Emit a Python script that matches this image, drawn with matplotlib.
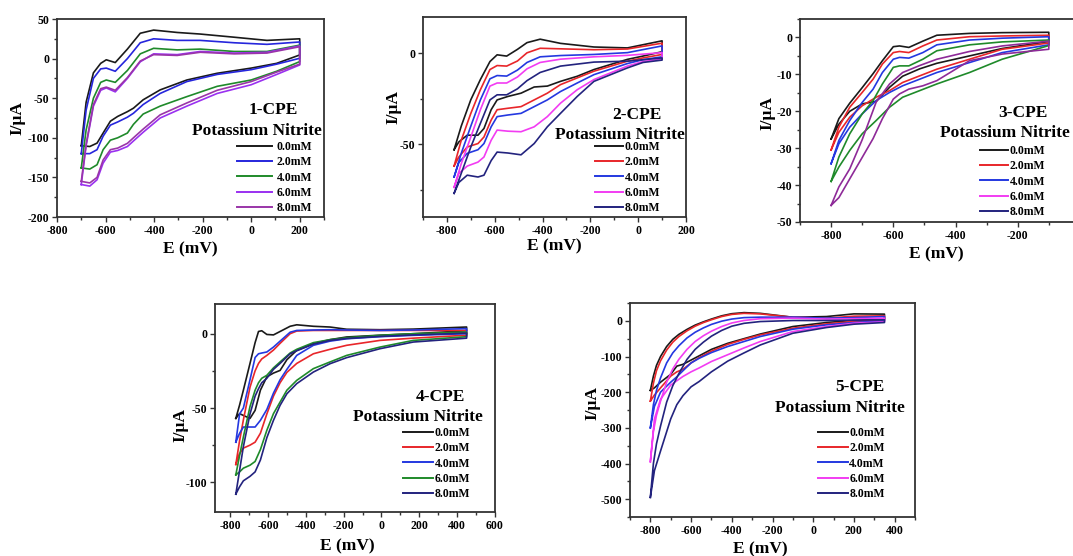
import matplotlib
matplotlib.use('Agg')
import matplotlib.pyplot as plt
from matplotlib.lines import Line2D
from matplotlib.ticker import MultipleLocator

plt.rcParams['font.family'] = ['Liberation Serif', 'DejaVu Serif']
plt.rcParams['font.weight'] = 'bold'
plt.rcParams['axes.labelweight'] = 'bold'
plt.rcParams['axes.unicode_minus'] = False

conc_labels = ['0.0mM', '2.0mM', '4.0mM', '6.0mM', '8.0mM']

# ---------------- Panel 1 (1-CPE) ----------------
p1_e_up = [-700, -680, -650, -620, -597, -560, -510, -457, -402, -305, -210, -70, 65, 200]
p1_i_up = [
    [-110, -55, -18, -6, -1.5, -5, 12, 32, 36, 33, 31, 27, 23, 25],
    [-120, -65, -25, -13, -12, -16, 0, 20, 25, 23, 23, 20, 18, 21],
    [-138, -90, -50, -30, -27, -30, -15, 6, 13, 11, 12, 9, 9, 17],
    [-159, -110, -60, -40, -37, -42, -25, -4, 6, 5, 9, 7, 8, 16],
    [-155, -108, -58, -38, -36, -40, -24, -3, 5, 4, 8, 6, 7, 15],
]
p1_e_dn = [200, 105, 0, -140, -265, -375, -445, -485, -510, -550, -580, -610, -635, -665, -700]
p1_i_dn = [
    [4.6, -6, -12, -18.5, -27, -39.5, -52, -62.6, -67, -73, -79, -94, -106.7, -111, -110],
    [0.4, -7, -14, -20, -29, -44, -58, -69, -74, -80, -84, -98, -115, -120, -120],
    [-3.8, -16, -27, -35, -48, -60, -70, -83, -94, -100, -103, -115, -134, -139.5, -138],
    [-8, -20, -33, -44, -60, -75, -93, -104, -111, -116, -118, -132, -153, -161, -159],
    [-7, -17, -29, -40, -56, -71, -89, -100, -107, -113, -115, -128, -150, -157, -155],
]
p1_colors = ['#1a1a1a', '#2626dc', '#1f8a2a', '#9a30f0', '#9a35a8']
p1_legend_colors = p1_colors

# ---------------- Panel 2 (2-CPE) ----------------
p2_e_up = [-770, -740, -700, -660, -620, -590, -550, -505, -465, -410, -325, -185, -45, 100]
p2_i_up = [
    [-53, -40, -25.5, -14.4, -4.5, -0.8, -1.5, 2.2, 5.9, 7.8, 5.5, 3.5, 3, 6.9],
    [-62, -47.8, -33, -20, -8.9, -6.7, -7, -4.2, 0.3, 2.8, 2.5, 2, 2.4, 5.6],
    [-68, -55, -40, -25.6, -14, -12.2, -12.5, -9.2, -5, -1.9, -1.2, -0.6, 0.4, 4.1],
    [-73.7, -60.7, -46, -31, -18, -16.3, -16.3, -13, -8.5, -5, -3.2, -1.9, -1.1, 0.4],
    [-77, -66, -51.5, -38.5, -25.6, -22.8, -22.8, -19.5, -15, -10.5, -7, -4.8, -4.3, -2.5],
]
p2_e_dn = [100, 20, -45, -185, -255, -325, -380, -435, -490, -545, -590, -615, -645, -670, -715, -750, -770]
p2_i_dn = [
    [0.9, -1.5, -3.3, -8.9, -12.6, -15.4, -18, -18.5, -21.9, -23.7, -25.6, -31, -41.3, -45, -45, -48.7, -53],
    [-0.6, -2.5, -4.3, -9.8, -13.5, -17.2, -21.9, -25.6, -29.3, -30.2, -31, -36.7, -46, -49.6, -51.5, -57, -62],
    [-1.9, -3.5, -5.6, -11.7, -16.3, -21, -25.6, -29.3, -33, -33.9, -34.8, -40.4, -49.6, -53, -55, -60, -68],
    [-3, -4.5, -7, -14.4, -20, -27.4, -34.8, -40.4, -43.1, -42.8, -42.2, -47.8, -57, -59.8, -62, -66, -73.7],
    [-3.7, -5, -8, -15.4, -23.7, -33, -40.4, -49.6, -55.8, -54.8, -54.3, -59, -67, -68, -67, -71, -77],
]
p2_colors = ['#1a1a1a', '#e8262a', '#2438e0', '#f23cf2', '#23237e']
p2_legend_colors = p2_colors

# ---------------- Panel 3 (3-CPE) ----------------
p3_e_up = [-800, -775, -740, -700, -665, -635, -600, -580, -550, -505, -460, -355, -250, -100]
p3_i_up = [
    [-27.5, -22, -17.8, -13.6, -9.8, -6.3, -2.5, -2.3, -2.7, -1, 0.6, 1.1, 1.3, 1.4],
    [-30.5, -24.3, -18.9, -14.9, -11.3, -7.2, -4.1, -3.8, -4.1, -2.3, -0.7, 0.2, 0.4, 0.6],
    [-34.2, -27.9, -22.5, -17.6, -14, -9.5, -5.9, -5.4, -5.6, -4.1, -2, -0.7, -0.2, 0.2],
    [-39, -32.4, -26.1, -20.7, -17.1, -12.6, -8.1, -7.7, -7.7, -5.9, -3.6, -2, -1.2, -0.7],
    [-45.5, -43.4, -38.3, -32.5, -27.4, -22, -16.7, -15.3, -14, -13.1, -11.7, -6.3, -4.5, -3.2],
]
p3_e_dn = [-100, -250, -355, -460, -515, -570, -612, -655, -700, -740, -775, -800]
p3_i_dn = [
    [-1.1, -3, -5, -7, -8.5, -10.5, -13.5, -17.3, -18, -20, -23.5, -27.5],
    [-1.5, -3.2, -5.9, -8.6, -10.4, -12.2, -14.4, -16.2, -18.5, -21.6, -25.7, -30.5],
    [-2, -4.1, -6.8, -9.5, -11.3, -13.1, -14.9, -17.1, -20.7, -24.3, -28.8, -34.2],
    [-2.2, -5.9, -9.5, -12.6, -14.4, -16.2, -18.9, -22.5, -26.1, -30.6, -35.1, -39],
    [-1, -2.3, -3.8, -5.9, -7.6, -9.5, -12.6, -17.5, -27.7, -35.6, -40.5, -45.5],
]
p3_colors = ['#1a1a1a', '#e8262a', '#2438e0', '#1f8a2a', '#8e2a98']
p3_legend_colors = ['#1a1a1a', '#e8262a', '#2438e0', '#f23cf2', '#23237e']

# ---------------- Panel 4 (4-CPE) ----------------
p4_e_up = [-770, -750, -730, -695, -668, -650, -633, -606, -571, -536, -483, -448, -360, -272, -184, -8, 168, 450]
p4_i_up = [
    [-57, -48, -38, -20, -6, 1.5, 2, -0.5, -0.8, 1.5, 5, 6, 5, 4.5, 3, 2.7, 3.1, 4.5],
    [-88, -72, -58, -36, -25, -20, -17, -14.6, -11, -6.5, 0, 1.8, 2.2, 2.2, 2.2, 2.2, 2.2, 2.2],
    [-73, -54, -50, -31, -16, -13.5, -13, -12.3, -9, -5, 1, 2.2, 2.5, 2.7, 2.5, 2.2, 2.5, 3.4],
    [-95, -82, -69.5, -49, -38, -33, -30, -28, -23, -19, -13, -10.5, -6, -4, -2.7, -1.1, 0, 1.1],
    [-108, -92, -76, -54, -42, -37, -33, -30, -24, -20, -13.5, -11.5, -7, -4.5, -3.2, -1.8, -0.8, 0.4],
]
p4_e_dn = [450, 168, -8, -184, -272, -360, -448, -500, -536, -571, -606, -640, -668, -695, -730, -750, -770]
p4_i_dn = [
    [2, 0, -1, -2.2, -4, -6.7, -11.2, -17.5, -24.7, -26.5, -29, -38, -51.6, -57, -55, -53.8, -57],
    [-1, -3, -4.5, -7.8, -10.5, -13.5, -20, -26, -33, -42, -54, -67, -73, -75, -77, -80.7, -88],
    [0, -1.1, -2, -3.4, -5, -7.8, -14.6, -24, -31, -40, -51, -58.3, -62.8, -62.8, -62.8, -67, -73],
    [-2, -4.5, -9, -14.6, -19, -23.5, -31.4, -38, -46, -53.8, -65, -78, -86, -88.5, -90.5, -93, -95],
    [-3, -5.6, -10.1, -16.1, -20.2, -25.8, -33.6, -40.4, -48.2, -58.3, -70, -85, -93, -96, -99, -103, -108],
]
p4_colors = ['#1a1a1a', '#e8262a', '#2438e0', '#1f8a2a', '#23237e']
p4_legend_colors = p4_colors

# ---------------- Panel 5 (5-CPE) ----------------
p5_e_up = [-800, -785, -770, -750, -720, -690, -660, -620, -580, -540, -500, -450, -400, -340, -260, -100, 65, 200, 350]
p5_i_up = [
    [-195, -155, -125, -100, -72, -52, -38, -24, -12, -3, 5, 14, 20, 23, 21, 10, 12, 19.5, 18.8],
    [-225, -175, -140, -112, -82, -60, -44, -28, -15, -5, 3, 12, 18, 21, 19.5, 10, 7.5, 13, 14],
    [-300, -235, -195, -160, -118, -90, -70, -48, -32, -20, -10, -1, 5, 9, 10.3, 10.3, 7.5, 9, 12],
    [-395, -310, -265, -225, -172, -135, -108, -80, -58, -42, -29, -16, -6, 1, 6, 7.5, 5, 6, 7.5],
    [-495, -400, -345, -295, -228, -182, -148, -108, -80, -60, -43, -27, -15, -7, -2, 0.9, 0.9, 2, 2.8],
]
p5_e_dn = [350, 200, 65, -100, -260, -340, -420, -500, -560, -600, -640, -670, -700, -750, -780, -800]
p5_i_dn = [
    [4.7, 1.5, -4.7, -16, -37, -50, -63, -80, -98, -110, -122, -127, -150, -172, -188, -195],
    [2.8, -1.9, -8.5, -20.7, -39.5, -52, -66, -85, -103, -118, -136, -143, -155, -188, -208, -225],
    [0, -4.7, -11.3, -23.5, -44, -58, -72, -89, -105, -118, -140, -157, -172, -200, -240, -300],
    [-2.8, -6.6, -16, -30, -58, -76, -95, -114, -132, -143, -156, -168, -180, -220, -275, -395],
    [-4.7, -9.4, -18.8, -34.8, -67.7, -90, -113, -143, -170, -185, -210, -235, -275, -365, -420, -495],
]
p5_colors = ['#1a1a1a', '#e8262a', '#2438e0', '#f23cf2', '#23237e']
p5_legend_colors = p5_colors

W, H = 1073, 556
fig = plt.figure(figsize=(W / 100, H / 100), dpi=100)


def add_ax(l, t, r, b):
    return fig.add_axes([l / W, 1 - b / H, (r - l) / W, (b - t) / H])


def style(ax, xlim, ylim, xmaj, xmin, ymaj, ymin, xlab_xy, ylab_xy):
    ax.set_xlim(*xlim)
    ax.set_ylim(*ylim)
    ax.xaxis.set_major_locator(MultipleLocator(xmaj))
    ax.xaxis.set_minor_locator(MultipleLocator(xmin))
    ax.yaxis.set_major_locator(MultipleLocator(ymaj))
    ax.yaxis.set_minor_locator(MultipleLocator(ymin))
    ax.tick_params(which='both', direction='out', top=False, right=False,
                   width=1.0, color='#333333')
    ax.tick_params(which='major', length=3.5, labelsize=8.5, pad=2)
    ax.tick_params(which='minor', length=2)
    for lab in ax.get_xticklabels() + ax.get_yticklabels():
        lab.set_fontweight('bold')
    for s in ax.spines.values():
        s.set_linewidth(1.3)
        s.set_color('#333333')
    ax.set_xlabel('E (mV)', fontsize=12.5, fontweight='bold', va='center')
    ax.set_ylabel('I/μA', fontsize=12.5, fontweight='bold', va='center')
    ax.xaxis.set_label_coords(xlab_xy[0] / W, 1 - xlab_xy[1] / H, transform=fig.transFigure)
    ax.yaxis.set_label_coords(ylab_xy[0] / W, 1 - ylab_xy[1] / H, transform=fig.transFigure)


def draw_panel(ax, e_up, i_up, e_dn, i_dn, colors):
    for k in range(len(i_up)):
        xs = list(e_up) + list(e_dn)
        ys = list(i_up[k]) + list(i_dn[k])
        xs.append(xs[0])
        ys.append(ys[0])
        ax.plot(xs, ys, color=colors[k], lw=1.2, solid_joinstyle='round')


def annotate(ax, name, name_xy, sub_xy, leg_xy, leg_colors, handlelength, textpad):
    fig.text(name_xy[0] / W, 1 - name_xy[1] / H, name, ha='center', va='center',
             fontsize=12.5, fontweight='bold')
    fig.text(sub_xy[0] / W, 1 - sub_xy[1] / H, 'Potassium Nitrite', ha='center',
             va='center', fontsize=12.5, fontweight='bold')
    handles = [Line2D([], [], color=c, lw=1.4) for c in leg_colors]
    ax.legend(handles, conc_labels, loc='upper left',
              bbox_to_anchor=(leg_xy[0] / W, 1 - leg_xy[1] / H),
              bbox_transform=fig.transFigure, frameon=False,
              prop={'size': 8.5, 'weight': 'bold'}, handlelength=handlelength,
              handletextpad=textpad, labelspacing=0.28, borderpad=0,
              borderaxespad=0)


# Panel 1
ax1 = add_ax(57, 19, 324, 217)
draw_panel(ax1, p1_e_up, p1_i_up, p1_e_dn, p1_i_dn, p1_colors)
style(ax1, (-800, 300), (-200, 50), 200, 100, 50, 25, (190, 249), (17, 118))
annotate(ax1, '1-CPE', (273, 110), (257, 131), (237, 141), p1_legend_colors, 3.0, 0.35)

# Panel 2
ax2 = add_ax(423, 17, 686, 217)
draw_panel(ax2, p2_e_up, p2_i_up, p2_e_dn, p2_i_dn, p2_colors)
style(ax2, (-900, 200), (-90, 20), 200, 100, 50, 25, (554, 246), (393, 107))
annotate(ax2, '2-CPE', (637, 115), (620, 135), (595, 141), p2_legend_colors, 2.4, 0.1)

# Panel 3
ax3 = add_ax(800, 19, 1111, 222)
draw_panel(ax3, p3_e_up, p3_i_up, p3_e_dn, p3_i_dn, p3_colors)
style(ax3, (-900, 100), (-50, 5), 200, 100, 10, 5, (936, 254), (767, 113))
annotate(ax3, '3-CPE', (1023, 113), (1005, 133), (980, 145), p3_legend_colors, 2.4, 0.1)

# Panel 4
ax4 = add_ax(215, 304, 495, 512)
draw_panel(ax4, p4_e_up, p4_i_up, p4_e_dn, p4_i_dn, p4_colors)
style(ax4, (-880, 600), (-120, 20), 200, 100, 50, 25, (347, 546), (180, 425))
annotate(ax4, '4-CPE', (440, 397), (418, 417), (403, 427), p4_legend_colors, 2.5, 0.2)

# Panel 5
ax5 = add_ax(630, 303, 915, 517)
draw_panel(ax5, p5_e_up, p5_i_up, p5_e_dn, p5_i_dn, p5_colors)
style(ax5, (-900, 500), (-550, 50), 200, 100, 100, 50, (760, 549), (592, 403))
annotate(ax5, '5-CPE', (860, 387), (840, 408), (818, 427), p5_legend_colors, 2.5, 0.15)

fig.savefig('out.png', dpi=100)
